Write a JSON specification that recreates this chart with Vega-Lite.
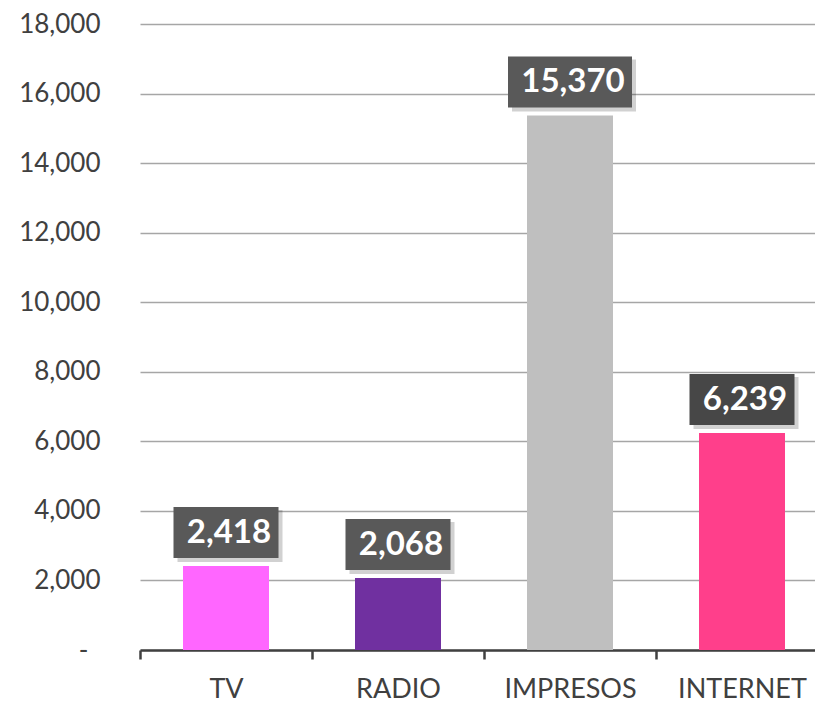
{
  "$schema": "https://vega.github.io/schema/vega-lite/v6.json",
  "width": 675,
  "height": 626,
  "autosize": {"type": "none"},
  "padding": {"left": 140, "top": 24, "right": 0, "bottom": 52},
  "background": "white",
  "config": {
    "view": {"stroke": null},
    "font": "Lato"
  },
  "data": {
    "values": [
      {"medio": "TV", "valor": 2418},
      {"medio": "RADIO", "valor": 2068},
      {"medio": "IMPRESOS", "valor": 15370},
      {"medio": "INTERNET", "valor": 6239}
    ]
  },
  "encoding": {
    "x": {
      "field": "medio",
      "type": "nominal",
      "sort": ["TV", "RADIO", "IMPRESOS", "INTERNET"],
      "scale": {"range": [0, 688], "paddingInner": 0, "paddingOuter": 0},
      "axis": {
        "title": null,
        "labelAngle": 0,
        "labelFont": "Lato",
        "labelFontSize": 27,
        "labelColor": "#404040",
        "labelPadding": 17,
        "domainColor": "#404040",
        "domainWidth": 2.5,
        "tickColor": "#404040",
        "tickWidth": 2.5,
        "tickSize": 9,
        "tickBand": "extent",
        "grid": false
      }
    },
    "y": {
      "field": "valor",
      "type": "quantitative",
      "scale": {"domain": [0, 18000], "nice": false},
      "axis": {
        "title": null,
        "values": [0, 2000, 4000, 6000, 8000, 10000, 12000, 14000, 16000, 18000],
        "labelExpr": "datum.value == 0 ? '-' : format(datum.value, ',')",
        "labelFont": "Lato",
        "labelFontSize": 26,
        "labelColor": "#404040",
        "labelPadding": {"condition": {"test": "datum.value == 0", "value": 52}, "value": 40},
        "domain": false,
        "ticks": false,
        "grid": true,
        "gridColor": "#A6A6A6",
        "gridWidth": 1.5
      }
    }
  },
  "layer": [
    {
      "mark": {"type": "bar", "width": {"band": 0.5}},
      "encoding": {
        "color": {
          "field": "medio",
          "type": "nominal",
          "scale": {
            "domain": ["TV", "RADIO", "IMPRESOS", "INTERNET"],
            "range": ["#FF66FF", "#7030A0", "#BFBFBF", "#FF3F8B"]
          },
          "legend": null
        }
      }
    },
    {
      "mark": {"type": "bar", "color": "#000000", "opacity": 0.18, "xOffset": 4, "yOffset": -4, "y2Offset": -56},
      "encoding": {
        "y2": {"field": "valor"},
        "size": {"condition": {"test": "datum.valor > 9999", "value": 124}, "value": 105}
      }
    },
    {
      "mark": {"type": "bar", "yOffset": -8, "y2Offset": -59},
      "encoding": {
        "y2": {"field": "valor"},
        "size": {"condition": {"test": "datum.valor > 9999", "value": 124}, "value": 105},
        "color": {"condition": {"test": "datum.medio == 'INTERNET'", "value": "#474747"}, "value": "#595959"}
      }
    },
    {
      "mark": {"type": "text", "font": "Lato", "fontWeight": "bold", "fontSize": 33, "color": "white", "baseline": "middle", "align": "center", "dx": 3, "dy": -33},
      "encoding": {
        "text": {"field": "valor", "type": "quantitative", "format": ","}
      }
    }
  ]
}
